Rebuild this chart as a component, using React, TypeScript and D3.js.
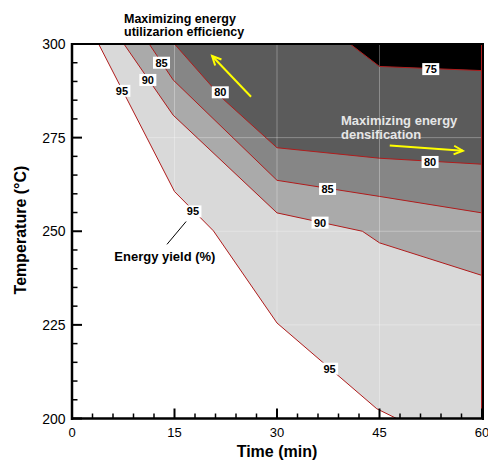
import React from 'react';
import * as d3 from 'd3';

const timeTicks = [0, 15, 30, 45, 60];
const tempTicks = [200, 225, 250, 275, 300];
const timeMinor = d3.range(0, 61, 3);
const tempMinor = d3.range(200, 301, 5);

// energy yield contours, [time (min), temperature (C)]
const yield95 = [[3.9, 300], [15, 260.6], [20.7, 250.1], [30, 225.5], [44.6, 202.6], [47.5, 200]];
const yield90 = [[7.6, 300], [14.8, 281], [30, 254.9], [42.5, 250], [45, 246.9], [60, 238.2]];
const yield85 = [[11.3, 300], [14.8, 290.4], [30, 263.6], [45, 259.3], [60, 254.9]];
const yield80 = [[15, 300], [22, 285.5], [30, 272.3], [45, 269.5], [60, 267.9]];
const yield75 = [[40.7, 300], [45, 294], [60, 292.9]];

const contours = [yield95, yield90, yield85, yield80, yield75];
const bandColors = ['#d9d9d9', '#aaaaaa', '#868686', '#5b5b5b', '#000000'];

// contour labels: level, time, temperature
const labelSpots = [
  [95, 7.3, 287.5], [95, 17.7, 255.3], [95, 37.7, 213.3],
  [90, 11.1, 290.4], [90, 36.3, 252.3],
  [85, 13.1, 295], [85, 37.4, 261.3],
  [80, 21.7, 287.1], [80, 52.4, 268.5],
  [75, 52.5, 293.3],
];

const W = 488;
const H = 461;
const x = d3.scaleLinear().domain([0, 60]).range([72, 482]);
const y = d3.scaleLinear().domain([200, 300]).range([418.5, 44]);

const line = d3.line<number[]>().x(d => x(d[0])).y(d => y(d[1]));

function arrow(t0: number[], t1: number[]) {
  const x0 = x(t0[0]), y0 = y(t0[1]), x1 = x(t1[0]), y1 = y(t1[1]);
  const a = Math.atan2(y1 - y0, x1 - x0);
  const len = 10, sp = 0.45;
  const p1 = [x1 - len * Math.cos(a - sp), y1 - len * Math.sin(a - sp)];
  const p2 = [x1 - len * Math.cos(a + sp), y1 - len * Math.sin(a + sp)];
  return (
    <g stroke="#ffff00" strokeWidth={2} fill="none">
      <line x1={x0} y1={y0} x2={x1} y2={y1} />
      <polyline points={`${p1[0]},${p1[1]} ${x1},${y1} ${p2[0]},${p2[1]}`} />
    </g>
  );
}

export default function App() {
  const font = 'Arial, "Liberation Sans", sans-serif';

  return (
    <svg width={W} height={H} style={{ position: 'absolute', left: 0, top: 0, background: '#fff' }} fontFamily={font}>
      {/* filled bands */}
      {contours.map((c, i) => {
        const last = c[c.length - 1];
        const pts = [...c];
        if (last[0] < 60) pts.push([60, 200]);
        pts.push([60, 300]);
        return <path key={i} d={line(pts) + 'Z'} fill={bandColors[i]} />;
      })}

      {/* faint grid */}
      <g stroke="#fff" strokeOpacity={0.3} strokeWidth={1}>
        {timeTicks.slice(1, -1).map(t => (
          <line key={'gx' + t} x1={x(t)} x2={x(t)} y1={y(200)} y2={y(300)} />
        ))}
        {tempTicks.slice(1, -1).map(t => (
          <line key={'gy' + t} x1={x(0)} x2={x(60)} y1={y(t)} y2={y(t)} />
        ))}
      </g>

      {/* contour lines */}
      {contours.map((c, i) => (
        <path key={'c' + i} d={line(c) || ''} fill="none" stroke="#b01c1c" strokeWidth={1} />
      ))}
      <line x1={x(60) - 0.5} x2={x(60) - 0.5} y1={y(200)} y2={y(300)} stroke="#b01c1c" strokeWidth={1} />

      {/* contour labels */}
      {labelSpots.map((d, i) => (
        <g key={'l' + i} transform={`translate(${x(d[1])},${y(d[2])})`}>
          <rect x={-8.5} y={-6} width={17} height={12} fill="#fff" />
          <text textAnchor="middle" dy="4" fontSize={11} fontWeight="bold" fill="#000">{d[0]}</text>
        </g>
      ))}

      {/* frame */}
      <g stroke="#000">
        <line x1={71} x2={484} y1={y(200)} y2={y(200)} strokeWidth={2.5} />
        <line x1={72} x2={72} y1={43} y2={420} strokeWidth={2.5} />
        <line x1={71} x2={484} y1={44} y2={44} strokeWidth={2} />
        <line x1={483} x2={483} y1={43} y2={420} strokeWidth={2} />
      </g>

      {/* ticks */}
      <g stroke="#000" strokeWidth={1.5}>
        {timeMinor.map(t => (
          <line key={'tx' + t} x1={x(t)} x2={x(t)} y1={y(200)}
            y2={y(200) - (timeTicks.includes(t) ? 10 : 5)} strokeWidth={timeTicks.includes(t) ? 2 : 1.5} />
        ))}
        {tempMinor.map(t => (
          <line key={'ty' + t} x1={x(0)} x2={x(0) + (tempTicks.includes(t) ? 10 : 5.5)} y1={y(t)} y2={y(t)}
            strokeWidth={tempTicks.includes(t) ? 2 : 1.5} />
        ))}
      </g>

      {/* tick labels */}
      {timeTicks.map(t => (
        <text key={'xl' + t} x={x(t)} y={437} textAnchor="middle" fontSize={13}>{t}</text>
      ))}
      {tempTicks.map(t => (
        <text key={'yl' + t} x={65.5} y={y(t) + 5} textAnchor="end" fontSize={14}>{t}</text>
      ))}

      {/* axis titles */}
      <text x={x(30)} y={456.5} textAnchor="middle" fontSize={16} fontWeight="bold">Time (min)</text>
      <text transform={`translate(26,230) rotate(-90)`} textAnchor="middle" fontSize={16} fontWeight="bold">
        Temperature (°C)
      </text>

      {/* annotations */}
      <text x={124} y={22.5} fontSize={12.5} fontWeight="bold">Maximizing energy</text>
      <text x={124} y={36} fontSize={12.5} fontWeight="bold">utilizarion efficiency</text>
      {arrow([26.2, 285.9], [20.5, 296.8])}

      <text x={341} y={124.5} fontSize={13} fontWeight="bold" fill="#e6e6e6">Maximizing energy</text>
      <text x={341} y={138.5} fontSize={13} fontWeight="bold" fill="#e6e6e6">densification</text>
      {arrow([46.5, 272.9], [57.2, 271.5])}

      <line x1={x(16.7)} y1={y(252.6)} x2={x(13.9)} y2={y(246.5)} stroke="#000" strokeWidth={1} />
      <text x={114.3} y={261} fontSize={13} fontWeight="bold">Energy yield (%)</text>
    </svg>
  );
}
